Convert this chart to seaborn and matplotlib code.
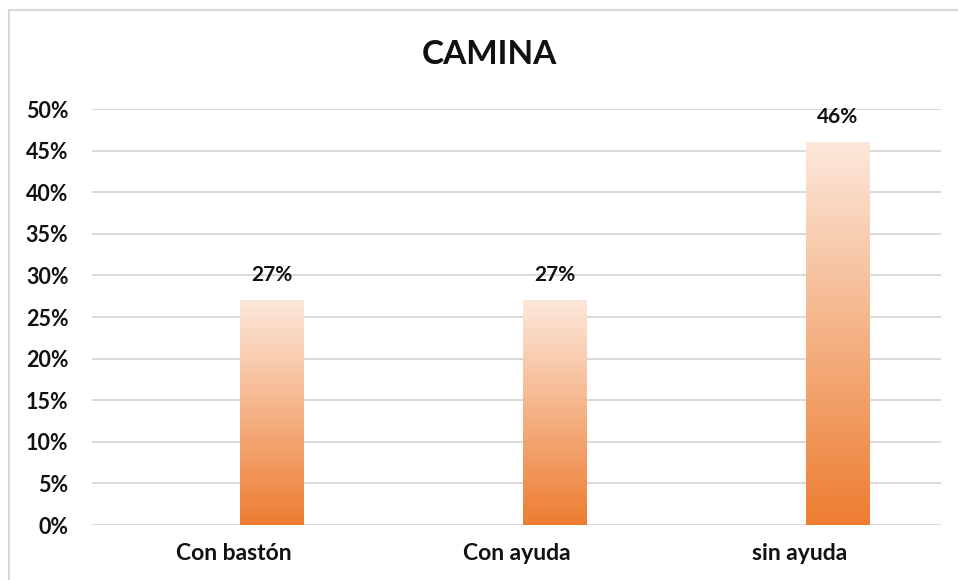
import numpy as np
import pandas as pd
import seaborn as sns
from matplotlib import pyplot as plt
from matplotlib.colors import LinearSegmentedColormap
from matplotlib.patches import Rectangle

# Data
categorias = ["Con bastón", "Con ayuda", "sin ayuda"]
valores = [0.27, 0.27, 0.46]
y_ticks = [0.00, 0.05, 0.10, 0.15, 0.20, 0.25, 0.30, 0.35, 0.40, 0.45, 0.50]

# Excel-like layout: an empty first series pushes the real bars to the right
series = ["vacia", "camina"]
df = pd.DataFrame({
    "categoria": categorias * 2,
    "serie": [series[0]] * len(categorias) + [series[1]] * len(categorias),
    "valor": [np.nan] * len(categorias) + valores,
})

sns.set_style("white")
plt.rcParams["font.family"] = ["Lato", "DejaVu Sans"]

fig = plt.figure(figsize=(9.58, 5.80), dpi=100)
ax = fig.add_axes([92 / 958, 1 - 525 / 580, (941 - 92) / 958, (525 - 109) / 580])

sns.barplot(data=df, x="categoria", y="valor", hue="serie", hue_order=series,
            order=categorias, width=0.537, gap=0.17, dodge=True, legend=False,
            color="#ED7D31", ax=ax)

# gradient fill for each bar: pale on top, orange at the bottom
cmap = LinearSegmentedColormap.from_list("naranja", ["#ED7D31", "#FCE8DB"])
grad = np.linspace(0, 1, 256).reshape(-1, 1)
for bar in list(ax.patches):
    h = bar.get_height()
    if not np.isfinite(h) or h <= 0:
        continue
    x0, w = bar.get_x(), bar.get_width()
    im = ax.imshow(grad, extent=[x0, x0 + w, 0, h], origin="lower", aspect="auto",
                   cmap=cmap, zorder=3)
    im.set_clip_path(bar)
    bar.set_facecolor("none")
    bar.set_edgecolor("none")
    ax.annotate(f"{h:.0%}", (x0 + w / 2, h), xytext=(0, 18), textcoords="offset points",
                ha="center", va="center", fontsize=15, fontweight="bold", color="#111111")

ax.set_xlim(-0.5, len(categorias) - 0.5)
ax.set_ylim(0, 0.5)
ax.set_yticks(y_ticks)
ax.set_yticklabels([f"{t:.0%}" for t in y_ticks])
ax.yaxis.grid(True, color="#D9D9D9", lw=1.4)
ax.set_axisbelow(True)
sns.despine(ax=ax, left=True, bottom=True, top=True, right=True)
ax.tick_params(axis="both", length=0, colors="#111111")
ax.tick_params(axis="y", pad=17, labelsize=15.5)
ax.tick_params(axis="x", pad=13, labelsize=16.5)
for lbl in ax.get_xticklabels() + ax.get_yticklabels():
    lbl.set_fontweight("bold")
ax.set_xlabel("")
ax.set_ylabel("")

fig.text(489 / 958, 1 - 55 / 580, "CAMINA", ha="center", va="center",
         fontsize=24, fontweight="bold", color="#111111")

# chart border like the Excel chart area
fig.patches.append(Rectangle((9 / 958, -0.1), 1.2, 1.1 - 10 / 580, transform=fig.transFigure,
                             fill=False, edgecolor="#D9D9D9", lw=1.5))

fig.savefig("out.png", dpi=100)
